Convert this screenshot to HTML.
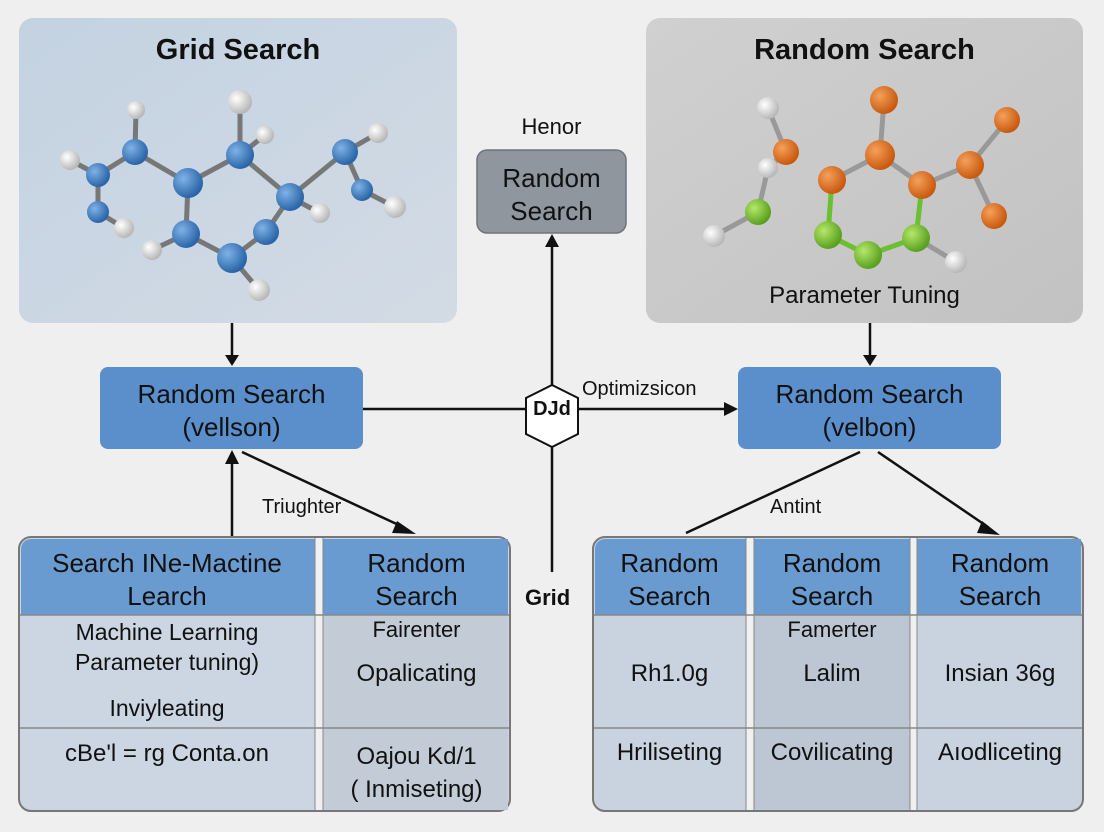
<!DOCTYPE html>
<html><head><meta charset="utf-8"><style>
body{margin:0;width:1104px;height:832px;background:#efefef;font-family:"Liberation Sans",sans-serif;overflow:hidden;position:relative}
.abs{position:absolute}
.t{color:#111;text-align:center}
</style></head><body>
<svg class="abs" style="left:0;top:0" width="1104" height="832">
<defs>
<radialGradient id="gb" cx="35%" cy="35%" r="65%"><stop offset="0" stop-color="#7fb2e6"/><stop offset="1" stop-color="#2a65a8"/></radialGradient>
<radialGradient id="gw" cx="35%" cy="35%" r="65%"><stop offset="0" stop-color="#fff"/><stop offset="1" stop-color="#b8b8b8"/></radialGradient>
<radialGradient id="go" cx="35%" cy="35%" r="65%"><stop offset="0" stop-color="#f5a05a"/><stop offset="1" stop-color="#c85a10"/></radialGradient>
<radialGradient id="gg" cx="35%" cy="35%" r="65%"><stop offset="0" stop-color="#b5e86a"/><stop offset="1" stop-color="#5aa020"/></radialGradient>
<linearGradient id="lp" x1="0" y1="0" x2="1" y2="1"><stop offset="0" stop-color="#c3d2e2"/><stop offset="1" stop-color="#d3dbe4"/></linearGradient>
<linearGradient id="rp" x1="0" y1="0" x2="1" y2="1"><stop offset="0" stop-color="#d0d0d0"/><stop offset="1" stop-color="#c2c2c2"/></linearGradient>
</defs>
<rect x="19" y="18" width="438" height="305" rx="14" fill="url(#lp)"/>
<rect x="646" y="18" width="437" height="305" rx="14" fill="url(#rp)"/>
<rect x="477" y="150" width="149" height="83" rx="10" fill="#8f969e" stroke="#6f757c" stroke-width="1.5"/>
<rect x="100" y="367" width="263" height="82" rx="8" fill="#5b8fcc"/>
<rect x="738" y="367" width="263" height="82" rx="8" fill="#5b8fcc"/>
<g stroke="#777" stroke-width="5">
<line x1="98" y1="175" x2="135" y2="152"/><line x1="135" y1="152" x2="188" y2="183"/><line x1="188" y1="183" x2="240" y2="155"/><line x1="240" y1="155" x2="290" y2="197"/><line x1="290" y1="197" x2="345" y2="152"/><line x1="188" y1="183" x2="186" y2="234"/><line x1="186" y1="234" x2="232" y2="258"/><line x1="232" y1="258" x2="266" y2="232"/><line x1="266" y1="232" x2="290" y2="197"/><line x1="98" y1="175" x2="98" y2="212"/><line x1="345" y1="152" x2="362" y2="190"/>
<line x1="98" y1="175" x2="70" y2="160"/><line x1="135" y1="152" x2="136" y2="110"/><line x1="240" y1="155" x2="240" y2="102"/><line x1="240" y1="155" x2="265" y2="135"/><line x1="290" y1="197" x2="320" y2="213"/><line x1="345" y1="152" x2="378" y2="133"/><line x1="362" y1="190" x2="395" y2="207"/><line x1="98" y1="212" x2="124" y2="228"/><line x1="186" y1="234" x2="152" y2="250"/><line x1="232" y1="258" x2="259" y2="290"/>
</g>
<g fill="url(#gb)"><circle cx="98" cy="175" r="12"/><circle cx="135" cy="152" r="13"/><circle cx="188" cy="183" r="15"/><circle cx="240" cy="155" r="14"/><circle cx="290" cy="197" r="14"/><circle cx="345" cy="152" r="13"/><circle cx="186" cy="234" r="14"/><circle cx="232" cy="258" r="15"/><circle cx="266" cy="232" r="13"/><circle cx="98" cy="212" r="11"/><circle cx="362" cy="190" r="11"/></g>
<g fill="url(#gw)"><circle cx="70" cy="160" r="10"/><circle cx="136" cy="110" r="9"/><circle cx="240" cy="102" r="12"/><circle cx="265" cy="135" r="9"/><circle cx="320" cy="213" r="10"/><circle cx="378" cy="133" r="10"/><circle cx="395" cy="207" r="11"/><circle cx="124" cy="228" r="10"/><circle cx="152" cy="250" r="10"/><circle cx="259" cy="290" r="11"/></g>
<g stroke="#999" stroke-width="5">
<line x1="768" y1="108" x2="786" y2="152"/><line x1="786" y1="152" x2="768" y2="168"/><line x1="768" y1="168" x2="758" y2="212"/><line x1="758" y1="212" x2="714" y2="236"/>
<line x1="884" y1="100" x2="880" y2="155"/><line x1="880" y1="155" x2="832" y2="180"/><line x1="880" y1="155" x2="922" y2="185"/><line x1="922" y1="185" x2="970" y2="165"/><line x1="970" y1="165" x2="1007" y2="120"/><line x1="970" y1="165" x2="994" y2="216"/>
<line x1="832" y1="180" x2="828" y2="235" stroke="#6ac030"/><line x1="828" y1="235" x2="868" y2="255" stroke="#6ac030"/><line x1="868" y1="255" x2="916" y2="238" stroke="#6ac030"/><line x1="916" y1="238" x2="922" y2="185" stroke="#6ac030"/><line x1="916" y1="238" x2="956" y2="262"/>
</g>
<g fill="url(#go)"><circle cx="786" cy="152" r="13"/><circle cx="884" cy="100" r="14"/><circle cx="880" cy="155" r="15"/><circle cx="832" cy="180" r="14"/><circle cx="922" cy="185" r="14"/><circle cx="970" cy="165" r="14"/><circle cx="1007" cy="120" r="13"/><circle cx="994" cy="216" r="13"/></g>
<g fill="url(#gg)"><circle cx="758" cy="212" r="13"/><circle cx="828" cy="235" r="14"/><circle cx="868" cy="255" r="14"/><circle cx="916" cy="238" r="14"/></g>
<g fill="url(#gw)"><circle cx="768" cy="108" r="11"/><circle cx="768" cy="168" r="10"/><circle cx="714" cy="236" r="11"/><circle cx="956" cy="262" r="11"/></g>
<g stroke="#111" stroke-width="2.5" fill="none">
<line x1="232" y1="323" x2="232" y2="356"/><line x1="870" y1="323" x2="870" y2="356"/>
<line x1="363" y1="409" x2="526" y2="409"/><line x1="578" y1="409" x2="726" y2="409"/>
<line x1="552" y1="385" x2="552" y2="245"/><line x1="552" y1="447" x2="552" y2="572"/>
<line x1="232" y1="537" x2="232" y2="463"/>
<line x1="242" y1="452" x2="403" y2="527"/>
<line x1="686" y1="533" x2="860" y2="452"/>
<line x1="878" y1="452" x2="988" y2="527"/>
</g>
<g fill="#111">
<polygon points="225,355 239,355 232,366"/><polygon points="863,355 877,355 870,366"/>
<polygon points="724,402 738,409 724,416"/><polygon points="545,247 559,247 552,234"/>
<polygon points="225,464 239,464 232,450"/>
<polygon points="397,521 416,534 392,533"/><polygon points="982,521 1000,535 977,533"/>
</g>
<polygon points="552,385 578,398 578,434 552,447 526,434 526,398" fill="#fff" stroke="#111" stroke-width="2"/>
<rect x="19" y="537" width="491" height="274" rx="12" fill="#cbd6e2" stroke="#777" stroke-width="2"/>
<path d="M21 615 V549 a10 10 0 0 1 10 -10 H508 V615 Z" fill="#6a9bd0"/>
<rect x="315" y="538" width="8" height="272" fill="#f0f0f0"/>
<rect x="323" y="615" width="185" height="195" fill="#c3ccd6"/>
<line x1="20" y1="615" x2="509" y2="615" stroke="#888" stroke-width="1.5"/><line x1="20" y1="728" x2="509" y2="728" stroke="#888" stroke-width="1.5"/>
<line x1="315" y1="538" x2="315" y2="810" stroke="#888"/><line x1="323" y1="538" x2="323" y2="810" stroke="#888"/>
<rect x="593" y="537" width="490" height="274" rx="12" fill="#c8d3df" stroke="#777" stroke-width="2"/>
<path d="M595 615 V549 a10 10 0 0 1 10 -10 H1081 V615 Z" fill="#6a9bd0"/>
<rect x="754" y="615" width="156" height="195" fill="#bcc7d3"/>
<rect x="746" y="538" width="8" height="272" fill="#f0f0f0"/><rect x="910" y="538" width="7" height="272" fill="#f0f0f0"/>
<line x1="594" y1="615" x2="1082" y2="615" stroke="#888" stroke-width="1.5"/><line x1="594" y1="728" x2="1082" y2="728" stroke="#888" stroke-width="1.5"/>
<g stroke="#888"><line x1="746" y1="538" x2="746" y2="810"/><line x1="754" y1="538" x2="754" y2="810"/><line x1="910" y1="538" x2="910" y2="810"/><line x1="917" y1="538" x2="917" y2="810"/></g>
</svg>
<div class="abs t" style="left:19px;top:34px;width:438px;font-size:29px;font-weight:bold">Grid Search</div>
<div class="abs t" style="left:646px;top:34px;width:437px;font-size:29px;font-weight:bold">Random Search</div>
<div class="abs t" style="left:646px;top:282px;width:437px;font-size:24px">Parameter Tuning</div>
<div class="abs t" style="left:477px;top:114px;width:149px;font-size:22px">Henor</div>
<div class="abs t" style="left:477px;top:162px;width:149px;font-size:26px;line-height:33px">Random<br>Search</div>
<div class="abs t" style="left:100px;top:378px;width:263px;font-size:26px;line-height:33px">Random Search<br>(vellson)</div>
<div class="abs t" style="left:738px;top:378px;width:263px;font-size:26px;line-height:33px">Random Search<br>(velbon)</div>
<div class="abs t" style="left:526px;top:398px;width:52px;font-size:20px;font-weight:bold">DJd</div>
<div class="abs" style="left:582px;top:378px;font-size:20px;color:#111">Optimizsicon</div>
<div class="abs" style="left:262px;top:496px;font-size:20px;color:#111">Triughter</div>
<div class="abs" style="left:770px;top:496px;font-size:20px;color:#111">Antint</div>
<div class="abs" style="left:525px;top:585px;font-size:22px;font-weight:bold;color:#111">Grid</div>
<div class="abs t" style="left:19px;top:547px;width:296px;font-size:26px;line-height:33px">Search INe-Mactine<br>Learch</div>
<div class="abs t" style="left:323px;top:547px;width:187px;font-size:26px;line-height:33px">Random<br>Search</div>
<div class="abs t" style="left:19px;top:617px;width:296px;font-size:23px;line-height:30px">Machine Learning<br>Parameter tuning)</div>
<div class="abs t" style="left:19px;top:695px;width:296px;font-size:23px">Inviyleating</div>
<div class="abs t" style="left:19px;top:740px;width:296px;font-size:24px">cBe'l = rg Conta.on</div>
<div class="abs t" style="left:323px;top:617px;width:187px;font-size:22px">Fairenter</div>
<div class="abs t" style="left:323px;top:660px;width:187px;font-size:24px">Opalicating</div>
<div class="abs t" style="left:323px;top:740px;width:187px;font-size:24px;line-height:33px">Oajou Kd/1<br>( Inmiseting)</div>
<div class="abs t" style="left:593px;top:547px;width:153px;font-size:26px;line-height:33px">Random<br>Search</div>
<div class="abs t" style="left:754px;top:547px;width:156px;font-size:26px;line-height:33px">Random<br>Search</div>
<div class="abs t" style="left:917px;top:547px;width:166px;font-size:26px;line-height:33px">Random<br>Search</div>
<div class="abs t" style="left:754px;top:617px;width:156px;font-size:22px">Famerter</div>
<div class="abs t" style="left:593px;top:660px;width:153px;font-size:24px">Rh1.0g</div>
<div class="abs t" style="left:754px;top:660px;width:156px;font-size:24px">Lalim</div>
<div class="abs t" style="left:917px;top:660px;width:166px;font-size:24px">Insian 36g</div>
<div class="abs t" style="left:593px;top:739px;width:153px;font-size:24px">Hriliseting</div>
<div class="abs t" style="left:754px;top:739px;width:156px;font-size:24px">Covilicating</div>
<div class="abs t" style="left:917px;top:739px;width:166px;font-size:24px">Aıodliceting</div>
</body></html>
